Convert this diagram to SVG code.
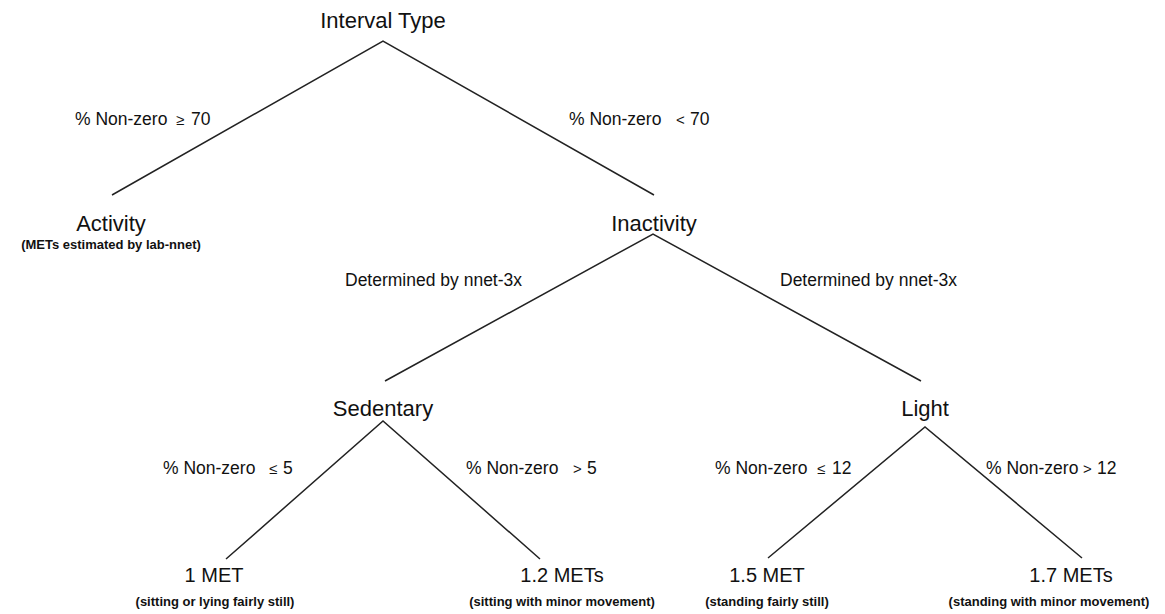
<svg xmlns="http://www.w3.org/2000/svg" width="1165" height="614" viewBox="0 0 1165 614">
<style>
text{font-family:"Liberation Sans",Arial,sans-serif;fill:#111}
.node{font-size:22px;text-anchor:middle}
.leaf{font-size:20px;text-anchor:middle}
.cap{font-size:13px;font-weight:bold;text-anchor:middle}
.lbl{font-size:17.5px}
.sym{font-size:15px}
.edge{stroke:#222;stroke-width:1.5;fill:none}
</style>
<rect width="1165" height="614" fill="#fff"/>
<g id="connectors">
<polyline class="edge" points="112,195 383,41 654,195"/>
<polyline class="edge" points="385,381 653,234 921,381"/>
<polyline class="edge" points="226,559 383,421 540,559"/>
<polyline class="edge" points="768,558 925,427 1082,558"/>
<text class="lbl" y="125"><tspan x="75">% Non-zero</tspan><tspan class="sym" x="176">≥</tspan><tspan x="191">70</tspan></text>
<text class="lbl" y="125"><tspan x="569">% Non-zero</tspan><tspan class="sym" x="676">&lt;</tspan><tspan x="690">70</tspan></text>
<text class="lbl" x="345" y="286">Determined by nnet-3x</text>
<text class="lbl" x="780" y="286">Determined by nnet-3x</text>
<text class="lbl" y="474"><tspan x="163">% Non-zero</tspan><tspan class="sym" x="269">≤</tspan><tspan x="283">5</tspan></text>
<text class="lbl" y="474"><tspan x="466">% Non-zero</tspan><tspan class="sym" x="573">&gt;</tspan><tspan x="587">5</tspan></text>
<text class="lbl" y="474"><tspan x="715">% Non-zero</tspan><tspan class="sym" x="817">≤</tspan><tspan x="832">12</tspan></text>
<text class="lbl" y="474"><tspan x="986">% Non-zero</tspan><tspan class="sym" x="1083">&gt;</tspan><tspan x="1097">12</tspan></text>
</g>
<g id="interval-type"><text class="node" x="383" y="28">Interval Type</text></g>
<g id="activity"><text class="node" x="111" y="231">Activity</text><text class="cap" x="111" y="249">(METs estimated by lab-nnet)</text></g>
<g id="inactivity"><text class="node" x="654" y="231">Inactivity</text></g>
<g id="sedentary"><text class="node" x="383" y="416">Sedentary</text></g>
<g id="light"><text class="node" x="925" y="416">Light</text></g>
<g id="met-1"><text class="leaf" x="214" y="582">1 MET</text><text class="cap" x="215" y="606">(sitting or lying fairly still)</text></g>
<g id="met-1-2"><text class="leaf" x="562" y="582">1.2 METs</text><text class="cap" x="562" y="606">(sitting with minor movement)</text></g>
<g id="met-1-5"><text class="leaf" x="767" y="582">1.5 MET</text><text class="cap" x="767" y="606">(standing fairly still)</text></g>
<g id="met-1-7"><text class="leaf" x="1071" y="582">1.7 METs</text><text class="cap" x="1049" y="606">(standing with minor movement)</text></g>
</svg>
